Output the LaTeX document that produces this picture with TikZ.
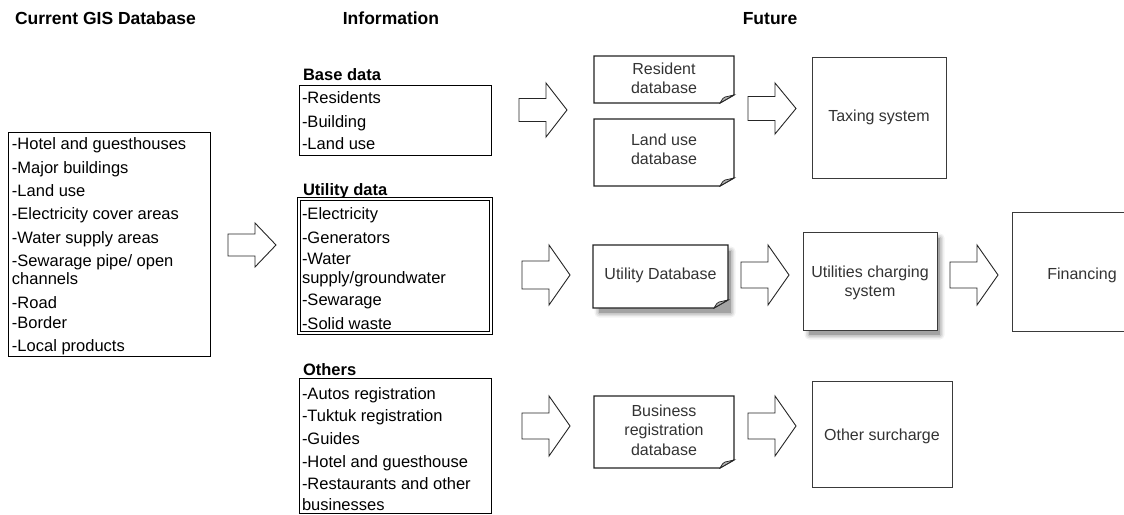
\documentclass[tikz,border=0pt]{standalone}
\usepackage{fontspec}
\setmainfont{Liberation Sans}
\definecolor{futgray}{HTML}{333333}
\definecolor{docgray}{HTML}{222222}
\definecolor{boxgray}{HTML}{3A3A3A}
\definecolor{foldgray}{HTML}{B0B0B0}

% block arrow: left x, centre y, half height, half shaft height
\newcommand\blockarrow[4]{%
  \draw[barrow] (#1,#2-#4) -- (#1+27,#2-#4) -- (#1+27,#2-#3) -- (#1+48,#2)
    -- (#1+27,#2+#3) -- (#1+27,#2+#4) -- (#1,#2+#4) -- cycle;}

% document outline with a turned-up corner, drawn round a named node
\newcommand\docoutline[1]{%
  \draw[docline] (#1.north west) -- (#1.north east)
    -- ([shift={(0,-8)}]#1.south east) -- ([shift={(-14,0)}]#1.south east)
    -- (#1.south west) -- cycle;
  \filldraw[fill=foldgray, draw=docgray, line width=0.7pt]
    ([shift={(-14,0)}]#1.south east) .. controls ([shift={(-11,-5)}]#1.south east)
    .. ([shift={(-9,-6)}]#1.south east) -- ([shift={(0,-8)}]#1.south east) -- cycle;}

% soft shadow below and right of a named node
\newcommand\softshadow[1]{%
  \foreach \s/\o in {0/0.18, 1.5/0.11, 3/0.07, 4.5/0.05}{%
    \fill[black, opacity=\o, rounded corners=\s]
      ([shift={(6-\s,6-\s)}]#1.north west) rectangle ([shift={(3+\s,5+\s)}]#1.south east);}}

\begin{document}
\begin{tikzpicture}[x=1pt, y=-1pt,
  every node/.style={inner sep=0pt, outer sep=0pt},
  item/.style={anchor=base west, font=\fontsize{16.5}{19}\selectfont},
  subhead/.style={anchor=base west, font=\fontsize{16.5}{19}\selectfont\bfseries},
  title/.style={anchor=base, font=\fontsize{17.5}{20}\selectfont\bfseries},
  listbox/.style={draw=black, line width=1pt, anchor=north west},
  dblbox/.style={draw=black, double=white, double distance=1.6pt, line width=0.9pt, anchor=north west},
  futtext/.style={font=\fontsize{16}{19.5}\selectfont, text=futgray, align=center, anchor=north west},
  docline/.style={draw=docgray, fill=white, line width=1.2pt, line join=miter},
  sysbox/.style={draw=boxgray, fill=white, line width=0.9pt, anchor=north west},
  barrow/.style={draw=black!85, fill=white, line width=0.9pt, line join=miter}
]
\clip (0,0) rectangle (1124,514);
\fill[white] (0,0) rectangle (1124,514);

% column titles
\node[title, anchor=base west] (t1) at (15,24) {Current GIS Database};
\node[title] (t2) at (391,24) {Information};
\node[title] (t3) at (770,24) {Future};

% current GIS database
\node[listbox, minimum width=202, minimum height=224] (gis) at (8,132) {};
\foreach \t/\yy [count=\i] in {-Hotel and guesthouses/149, -Major buildings/173,
    -Land use/196, -Electricity cover areas/219, -Water supply areas/243,
    {-Sewarage pipe/ open}/266, channels/284, -Road/308, -Border/328, -Local products/351}
  \node[item] (gis-\i) at (12,\yy) {\t};

% information: base data
\node[subhead] (basehd) at (303,80) {Base data};
\node[listbox, minimum width=192, minimum height=70] (base) at (299,85) {};
\foreach \t/\yy [count=\i] in {-Residents/103, -Building/127, -Land use/149}
  \node[item] (base-\i) at (302,\yy) {\t};

% information: utility data
\node[subhead] (utilhd) at (303,195) {Utility data};
\node[dblbox, minimum width=192, minimum height=134] (util) at (299,199) {};
\foreach \t/\yy [count=\i] in {-Electricity/219, -Generators/243, -Water/264,
    {supply/groundwater}/283, -Sewarage/305, -Solid waste/329}
  \node[item] (util-\i) at (302,\yy) {\t};

% information: others
\node[subhead] (othhd) at (303,375) {Others};
\node[listbox, minimum width=192, minimum height=135] (oth) at (299,378) {};
\foreach \t/\yy [count=\i] in {-Autos registration/399, -Tuktuk registration/421,
    -Guides/444, -Hotel and guesthouse/467, -Restaurants and other/489, businesses/510}
  \node[item] (oth-\i) at (302,\yy) {\t};

% future: databases
\node[futtext, minimum width=140, minimum height=47] (resdb) at (594,56) {};
\docoutline{resdb}
\node[futtext] (resdbt) at ([yshift=1pt]resdb.center) [anchor=center] {Resident\\database};

\node[futtext, minimum width=140, minimum height=67] (landdb) at (594,119) {};
\docoutline{landdb}
\node[futtext] (landdbt) at ([yshift=3pt]landdb.center) [anchor=center] {Land use\\database};

\node[futtext, minimum width=135, minimum height=63] (utildb) at (593,245) {};
\softshadow{utildb}
\docoutline{utildb}
\node[futtext] (utildbt) at ([yshift=1.5pt]utildb.center) [anchor=center] {Utility Database};

\node[futtext, minimum width=140, minimum height=72] (busdb) at (594,396) {};
\docoutline{busdb}
\node[futtext] (busdbt) at ([yshift=2pt]busdb.center) [anchor=center] {Business\\registration\\database};

% future: charging systems
\node[sysbox, minimum width=134, minimum height=121] (tax) at (812,57) {};
\node[futtext, anchor=center] (taxt) at (tax.center) {Taxing system};

\node[sysbox, minimum width=134, minimum height=98, fill=none, draw=none] (charge) at (803,232) {};
\softshadow{charge}
\node[sysbox, minimum width=134, minimum height=98] (chargebox) at (803,232) {};
\node[futtext, anchor=center] (charget) at ([yshift=-2pt]charge.center) {Utilities charging\\system};

\node[sysbox, minimum width=140, minimum height=119] (fin) at (1012,212) {};
\node[futtext, anchor=center] (fint) at ([yshift=-3.5pt]fin.center) {Financing};

\node[sysbox, minimum width=140, minimum height=106] (sur) at (812,381) {};
\node[futtext, anchor=center] (surt) at ([yshift=-2pt]sur.center) {Other surcharge};

% flow arrows
\blockarrow{228}{245}{22}{11}
\blockarrow{519}{110}{27}{11.5}
\blockarrow{522}{275}{30}{14}
\blockarrow{522}{426}{30}{13}
\blockarrow{748}{108.5}{25.5}{12}
\blockarrow{741}{275}{30}{13}
\blockarrow{950}{275}{30}{13}
\blockarrow{748}{426}{30}{13}
\end{tikzpicture}
\end{document}
